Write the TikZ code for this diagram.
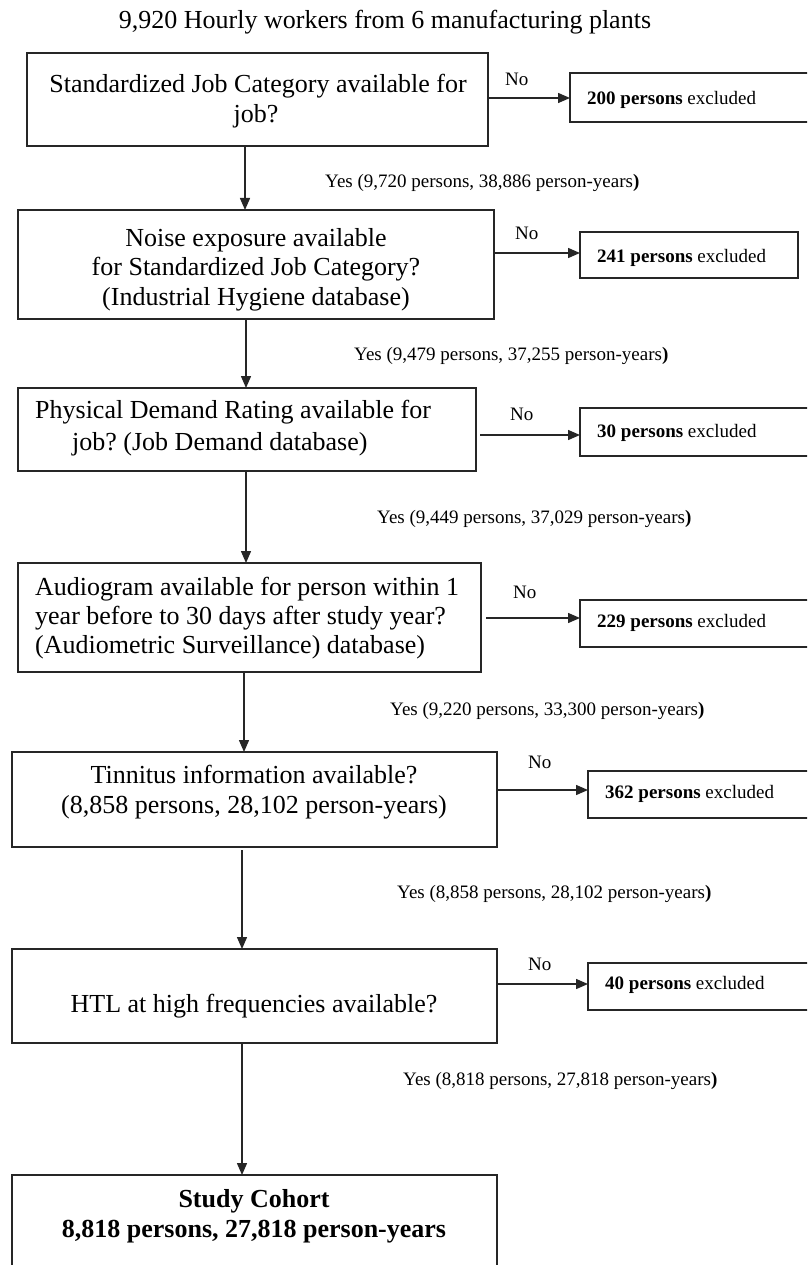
\documentclass[tikz,border=0pt]{standalone}
\usepackage{fontspec}
\setmainfont{Liberation Serif}
\usetikzlibrary{arrows.meta,calc}
\frenchspacing
\begin{document}
\begin{tikzpicture}[x=1pt,y=-1pt,
  box/.style={draw=black!85, line width=1.7pt, inner sep=0pt, outer sep=0pt, anchor=north west},
  big/.style={font=\fontsize{26pt}{30pt}\selectfont, inner sep=0pt, anchor=base},
  bigl/.style={big, anchor=base west},
  small/.style={font=\fontsize{19pt}{22pt}\selectfont, inner sep=0pt, anchor=base west},
  arr/.style={draw=black!85, line width=1.4pt, -{Triangle[length=12pt,width=10pt]}},
]
\useasboundingbox (0,0) rectangle (807,1265);
\fill[white] (0,0) rectangle (807,1265);
\clip (0,0) rectangle (807,1265);

% title
\node[big] (title) at (385,29) {9,920 Hourly workers from 6 manufacturing plants};

% main boxes
\node[box, minimum width=461pt, minimum height=93pt] (b1) at (27,53) {};
\node[box, minimum width=476pt, minimum height=109pt] (b2) at (18,210) {};
\node[box, minimum width=458pt, minimum height=83pt] (b3) at (18,388) {};
\node[box, minimum width=463pt, minimum height=109pt] (b4) at (18,563) {};
\node[box, minimum width=485pt, minimum height=95pt] (b5) at (12,752) {};
\node[box, minimum width=485pt, minimum height=94pt] (b6) at (12,949) {};
\node[box, minimum width=485pt, minimum height=110pt] (b7) at (12,1175) {};

% excluded boxes
\node[box, minimum width=260pt, minimum height=49pt] (e1) at (570,73) {};
\node[box, minimum width=218pt, minimum height=46pt] (e2) at (580,232) {};
\node[box, minimum width=250pt, minimum height=48pt] (e3) at (580,408) {};
\node[box, minimum width=250pt, minimum height=47pt] (e4) at (580,600) {};
\node[box, minimum width=242pt, minimum height=47pt] (e5) at (588,771) {};
\node[box, minimum width=242pt, minimum height=47pt] (e6) at (588,963) {};

% box texts
\node[big] (t1a) at (258,93) {Standardized Job Category available for};
\node[big] (t1b) at (256,123) {job?};
\node[big] (t2a) at (256,247) {Noise exposure available};
\node[big] (t2b) at (256,276) {for Standardized Job Category?};
\node[big] (t2c) at (256,305) {(Industrial Hygiene database)};
\node[bigl] (t3a) at (35,418) {Physical Demand Rating available for};
\node[bigl] (t3b) at (72,450) {job? (Job Demand database)};
\node[bigl] (t4a) at (35,595) {Audiogram available for person within 1};
\node[bigl] (t4b) at (35,624) {year before to 30 days after study year?};
\node[bigl] (t4c) at (35,653) {(Audiometric Surveillance) database)};
\node[big] (t5a) at (254,783) {Tinnitus information available?};
\node[big] (t5b) at (254,813) {(8,858 persons, 28,102 person-years)};
\node[big] (t6a) at (254,1012) {HTL at high frequencies available?};
\node[big, font=\fontsize{26pt}{30pt}\selectfont\bfseries] (t7a) at (254,1207) {Study Cohort};
\node[big, font=\fontsize{26pt}{30pt}\selectfont\bfseries] (t7b) at (254,1237) {8,818 persons, 27,818 person-years};

% excluded texts
\node[small] (x1) at (587,105) {\textbf{200 persons} excluded};
\node[small] (x2) at (597,262) {\textbf{241 persons} excluded};
\node[small] (x3) at (597,437) {\textbf{30 persons} excluded};
\node[small] (x4) at (597,627) {\textbf{229 persons} excluded};
\node[small] (x5) at (605,798) {\textbf{362 persons} excluded};
\node[small] (x6) at (605,989) {\textbf{40 persons} excluded};

% No labels
\node[small] (n1) at (505,86) {No};
\node[small] (n2) at (515,240) {No};
\node[small] (n3) at (510,420) {No};
\node[small] (n4) at (513,598) {No};
\node[small] (n5) at (528,768) {No};
\node[small] (n6) at (528,970) {No};

% Yes labels
\node[small] (y1) at (325,188) {Yes (9,720 persons, 38,886 person-years\textbf{)}};
\node[small] (y2) at (354,360) {Yes (9,479 persons, 37,255 person-years\textbf{)}};
\node[small] (y3) at (377,523) {Yes (9,449 persons, 37,029 person-years\textbf{)}};
\node[small] (y4) at (390,715) {Yes (9,220 persons, 33,300 person-years\textbf{)}};
\node[small] (y5) at (397,898) {Yes (8,858 persons, 28,102 person-years\textbf{)}};
\node[small] (y6) at (403,1085) {Yes (8,818 persons, 27,818 person-years\textbf{)}};

% vertical arrows
\coordinate (v1) at (245,0);
\coordinate (v2) at (246,0);
\coordinate (v3) at (246,0);
\coordinate (v4) at (244,0);
\coordinate (v5) at (242,0);
\coordinate (v6) at (242,0);
\draw[arr] (b1.south -| v1) -- (b2.north -| v1);
\draw[arr] (b2.south -| v2) -- (b3.north -| v2);
\draw[arr] (b3.south -| v3) -- (b4.north -| v3);
\draw[arr] (b4.south -| v4) -- (b5.north -| v4);
\draw[arr, shorten <=3pt] (b5.south -| v5) -- (b6.north -| v5);
\draw[arr] (b6.south -| v6) -- (b7.north -| v6);

% horizontal arrows
\coordinate (h1) at (0,98);
\coordinate (h2) at (0,253);
\coordinate (h3) at (0,435);
\coordinate (h4) at (0,618);
\coordinate (h5) at (0,790);
\coordinate (h6) at (0,984);
\draw[arr] (b1.east |- h1) -- (e1.west |- h1);
\draw[arr] (b2.east |- h2) -- (e2.west |- h2);
\draw[arr, shorten <=4pt] (b3.east |- h3) -- (e3.west |- h3);
\draw[arr, shorten <=5pt] (b4.east |- h4) -- (e4.west |- h4);
\draw[arr] (b5.east |- h5) -- (e5.west |- h5);
\draw[arr] (b6.east |- h6) -- (e6.west |- h6);
\end{tikzpicture}
\end{document}
